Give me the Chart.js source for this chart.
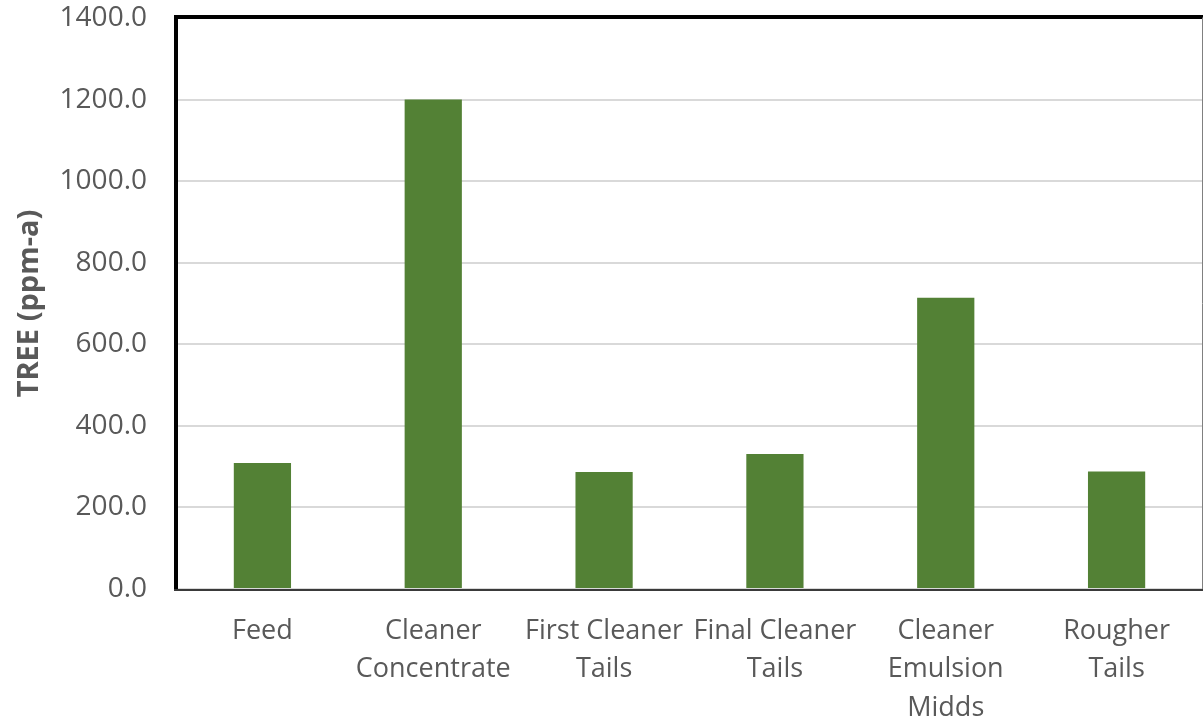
<!DOCTYPE html>
<html>
<head>
<meta charset="utf-8">
<title>TREE by stream</title>
<script src="https://cdn.jsdelivr.net/npm/chart.js@4/dist/chart.umd.min.js"></script>
<style>
  html, body { margin: 0; padding: 0; background: #ffffff; }
  #wrap { width: 1203px; height: 724px; position: relative; }
</style>
</head>
<body>
<div id="wrap"><canvas id="c" width="1203" height="724"></canvas></div>
<script>
// Process streams (x-axis categories, wrapped onto lines)
const categories = [
  ["Feed"],
  ["Cleaner", "Concentrate"],
  ["First Cleaner", "Tails"],
  ["Final Cleaner", "Tails"],
  ["Cleaner", "Emulsion", "Midds"],
  ["Rougher", "Tails"]
];
// Total rare earth elements per stream, ppm-a
const treeValues = [309, 1200, 287, 331, 714, 288];
// Value axis ticks
const yTicks = [0, 200, 400, 600, 800, 1000, 1200, 1400];

const textColor = "#595959";
const fontFamily = "'Open Sans', 'Liberation Sans', sans-serif";

// Frame around the plot: heavy black left/top, thin grey right, dark base line
const framePlugin = {
  id: "frame",
  afterDatasetsDraw(chart) {
    const { ctx, chartArea: a } = chart;
    ctx.save();
    ctx.lineCap = "square";
    ctx.strokeStyle = "#000000";
    ctx.lineWidth = 4;
    ctx.beginPath();
    ctx.moveTo(a.left - 1, a.bottom);
    ctx.lineTo(a.left - 1, a.top - 1);
    ctx.lineTo(a.right, a.top - 1);
    ctx.stroke();
    ctx.strokeStyle = "#808080";
    ctx.lineWidth = 1;
    ctx.beginPath();
    ctx.moveTo(a.right + 0.5, a.top);
    ctx.lineTo(a.right + 0.5, a.bottom);
    ctx.stroke();
    ctx.strokeStyle = "#3a3a3a";
    ctx.lineWidth = 2;
    ctx.beginPath();
    ctx.moveTo(a.left - 2, a.bottom + 1);
    ctx.lineTo(a.right + 1, a.bottom + 1);
    ctx.stroke();
    ctx.restore();
  }
};

new Chart(document.getElementById("c"), {
  type: "bar",
  data: {
    labels: categories,
    datasets: [{
      label: "TREE (ppm-a)",
      data: treeValues,
      backgroundColor: "#538135",
      borderWidth: 0,
      categoryPercentage: 1.0,
      barPercentage: 0.335
    }]
  },
  options: {
    responsive: false,
    animation: false,
    devicePixelRatio: 1,
    layout: { padding: { top: 18, right: 1, left: 0, bottom: 0 } },
    plugins: {
      legend: { display: false },
      tooltip: { enabled: false }
    },
    scales: {
      x: {
        grid: { display: false, drawTicks: false },
        border: { display: false },
        ticks: {
          color: textColor,
          font: { family: fontFamily, size: 27, lineHeight: 1.42 },
          padding: 23,
          maxRotation: 0,
          minRotation: 0,
          autoSkip: false
        },
        afterFit(scale) {
          scale.height = 135;
          scale.paddingLeft = 0;
          scale.paddingRight = 0;
        }
      },
      y: {
        min: 0,
        max: 1400,
        afterBuildTicks(scale) { scale.ticks = yTicks.map(v => ({ value: v })); },
        grid: { color: "#d9d9d9", lineWidth: 2, drawTicks: false },
        border: { display: false },
        ticks: {
          color: textColor,
          font: { family: fontFamily, size: 28 },
          padding: 30,
          callback: v => Number(v).toFixed(1)
        },
        title: {
          display: true,
          text: "TREE (ppm-a)",
          color: textColor,
          font: { family: fontFamily, size: 29, weight: "bold" },
          padding: { top: 12, bottom: 0 }
        },
        afterFit(scale) {
          scale.width = 177;
          scale.paddingTop = 0;
          scale.paddingBottom = 0;
        }
      }
    }
  },
  plugins: [framePlugin]
});
</script>
</body>
</html>
